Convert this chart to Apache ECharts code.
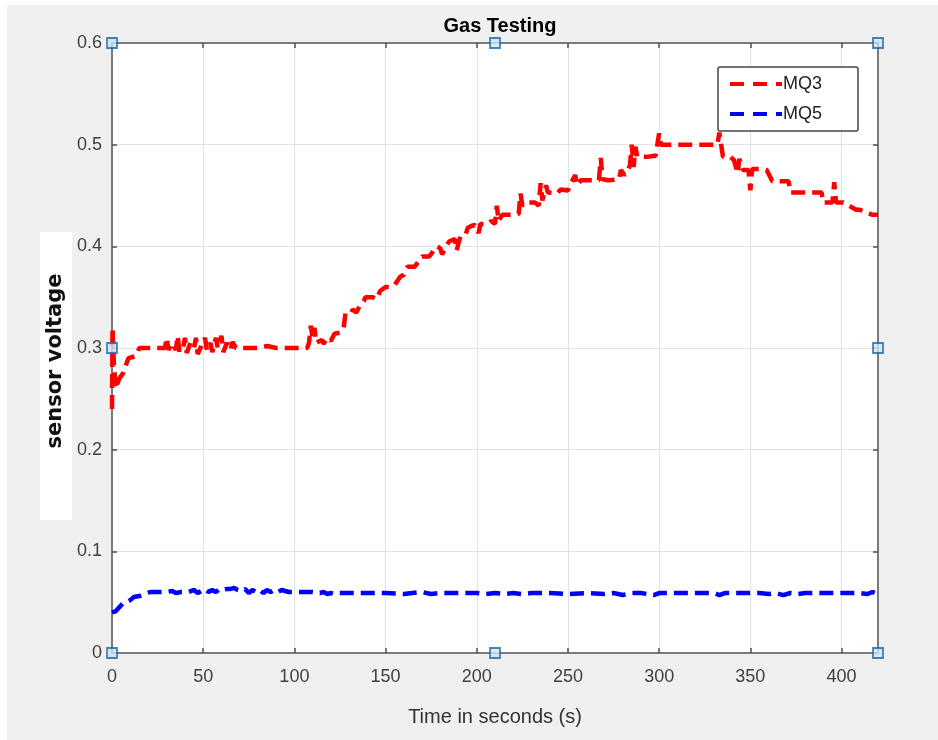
<!DOCTYPE html>
<html>
<head>
<meta charset="utf-8">
<script src="https://cdn.jsdelivr.net/npm/echarts@6/dist/echarts.min.js"></script>
<style>html,body{margin:0;padding:0;background:#fff;}#c{width:938px;height:740px;}</style>
</head>
<body>
<div id="c"></div>
<script>
const titleText = 'Gas Testing';
const xName = 'Time in seconds (s)';
const yName = 'sensor voltage';
const seriesNames = ['MQ3', 'MQ5'];
const xTicks = { min: 0, max: 420, interval: 50 };
const yTicks = { min: 0, max: 0.6, interval: 0.1 };

const mq3 = [[0,0.24],[0.3,0.32],[1,0.285],[2,0.26],[4,0.27],[6,0.275],[8,0.285],[9,0.29],[13,0.292],[15,0.30],[20,0.30],[26,0.30],[29,0.30],[30,0.31],[31,0.298],[33,0.305],[35,0.298],[36,0.312],[37,0.296],[39,0.30],[40,0.31],[41,0.295],[43,0.305],[45,0.30],[46,0.31],[47,0.294],[49,0.302],[51,0.31],[52,0.298],[54,0.305],[55,0.296],[57,0.31],[58,0.30],[60,0.312],[61,0.296],[63,0.305],[65,0.298],[66,0.306],[68,0.30],[75,0.30],[80,0.30],[85,0.302],[90,0.30],[100,0.30],[107,0.30],[108,0.305],[109,0.322],[110,0.31],[111,0.32],[112,0.305],[115,0.308],[116,0.304],[118,0.31],[120,0.307],[122,0.314],[125,0.315],[127,0.32],[128,0.334],[131,0.334],[132,0.338],[134,0.335],[136,0.342],[138,0.346],[139,0.35],[143,0.35],[145,0.348],[147,0.356],[150,0.36],[153,0.36],[155,0.362],[158,0.37],[160,0.372],[162,0.38],[166,0.38],[168,0.385],[170,0.39],[174,0.39],[176,0.395],[178,0.40],[180,0.398],[181,0.392],[183,0.40],[185,0.405],[188,0.407],[189,0.396],[191,0.41],[194,0.412],[195,0.418],[197,0.42],[199,0.421],[201,0.413],[202,0.422],[206,0.422],[208,0.425],[210,0.422],[211,0.44],[212,0.425],[214,0.431],[220,0.431],[223,0.432],[224,0.452],[225,0.44],[227,0.443],[232,0.443],[234,0.44],[235,0.462],[236,0.445],[238,0.46],[239,0.453],[244,0.452],[246,0.456],[250,0.455],[251,0.46],[254,0.47],[255,0.46],[257,0.465],[262,0.465],[267,0.465],[268,0.487],[269,0.466],[272,0.465],[278,0.466],[279,0.475],[281,0.47],[283,0.475],[284,0.48],[285,0.50],[286,0.478],[287,0.498],[288,0.488],[293,0.488],[298,0.489],[299,0.49],[300,0.511],[301,0.50],[310,0.50],[320,0.50],[330,0.50],[332,0.50],[333,0.512],[334,0.50],[335,0.488],[339,0.488],[341,0.485],[343,0.472],[344,0.486],[346,0.475],[349,0.475],[350,0.455],[351,0.476],[356,0.476],[359,0.475],[362,0.464],[371,0.464],[372,0.453],[380,0.453],[389,0.453],[390,0.443],[395,0.443],[396,0.463],[397,0.443],[401,0.443],[404,0.44],[408,0.436],[410,0.436],[414,0.433],[417,0.431],[420,0.431]];

const mq5 = [[0,0.04],[2,0.041],[4,0.045],[6,0.049],[8,0.05],[10,0.052],[12,0.055],[15,0.056],[18,0.058],[21,0.06],[25,0.06],[30,0.06],[33,0.061],[35,0.059],[38,0.06],[42,0.06],[45,0.062],[47,0.059],[49,0.061],[51,0.063],[53,0.06],[55,0.062],[57,0.06],[59,0.063],[61,0.062],[63,0.063],[65,0.063],[67,0.064],[69,0.062],[71,0.061],[73,0.063],[75,0.059],[77,0.062],[79,0.06],[81,0.062],[83,0.059],[85,0.062],[87,0.06],[89,0.062],[91,0.06],[93,0.062],[95,0.061],[97,0.06],[100,0.06],[105,0.06],[110,0.06],[114,0.059],[116,0.06],[118,0.058],[120,0.059],[122,0.058],[124,0.059],[130,0.059],[140,0.059],[150,0.059],[160,0.058],[170,0.06],[175,0.058],[180,0.059],[190,0.059],[200,0.059],[205,0.058],[210,0.059],[215,0.058],[220,0.059],[225,0.058],[230,0.059],[240,0.059],[250,0.058],[260,0.059],[270,0.058],[275,0.059],[280,0.057],[285,0.059],[290,0.059],[297,0.057],[300,0.059],[310,0.059],[320,0.059],[330,0.059],[333,0.057],[336,0.059],[345,0.059],[355,0.059],[360,0.058],[364,0.059],[368,0.057],[372,0.059],[376,0.058],[380,0.059],[390,0.059],[400,0.059],[410,0.059],[414,0.058],[417,0.06],[420,0.058]];

const handles = [[0,0],[0,0.3],[0,0.6],[210,0.6],[420,0.6],[420,0.3],[420,0],[210,0]];

const font = 'Liberation Sans, Arial, Helvetica, sans-serif';
const axisLineStyle = { color: '#7a7a7a', width: 2 };
const tickStyle = { color: '#505050', width: 1.5 };

function xAxisCfg(pos, main) {
  return {
    type: 'value', position: pos, min: xTicks.min, max: xTicks.max, interval: xTicks.interval,
    axisLine: { show: true, onZero: false, lineStyle: axisLineStyle },
    axisTick: { show: true, inside: true, length: 5, lineStyle: tickStyle },
    axisLabel: { show: main, color: '#404040', fontSize: 18, fontFamily: font, margin: 15, showMaxLabel: false },
    splitLine: { show: main, lineStyle: { color: '#e2e2e2', width: 1 } },
    name: main ? xName : '', nameLocation: 'middle', nameGap: 54,
    nameTextStyle: { color: '#333', fontSize: 20, fontFamily: font }
  };
}
function yAxisCfg(pos, main) {
  return {
    type: 'value', position: pos, min: yTicks.min, max: yTicks.max, interval: yTicks.interval,
    axisLine: { show: true, onZero: false, lineStyle: axisLineStyle },
    axisTick: { show: true, inside: true, length: 5, lineStyle: tickStyle },
    axisLabel: { show: main, color: '#404040', fontSize: 18, fontFamily: font, margin: 10,
      formatter: v => String(Math.round(v * 10) / 10) },
    splitLine: { show: main, lineStyle: { color: '#e2e2e2', width: 1 } }
  };
}

const chart = echarts.init(document.getElementById('c'), null, { renderer: 'canvas' });
chart.setOption({
  animation: false,
  backgroundColor: '#f0f0f0',
  title: {
    text: titleText, left: 495, top: 11, textAlign: 'center',
    textStyle: { fontSize: 20, fontWeight: 'bold', color: '#000', fontFamily: font }
  },
  grid: { left: 112, right: 60, top: 43, bottom: 87, show: true, backgroundColor: '#fff', borderWidth: 0 },
  xAxis: [xAxisCfg('bottom', true), xAxisCfg('top', false)],
  yAxis: [yAxisCfg('left', true), yAxisCfg('right', false)],
  legend: {
    data: seriesNames, orient: 'vertical', left: 718, top: 67,
    padding: [8, 36, 8, 10], itemWidth: 52, itemHeight: 14, itemGap: 12,
    itemStyle: { opacity: 0, borderWidth: 0 },
    lineStyle: { width: 4, type: [14, 9] },
    textStyle: { fontSize: 18, color: '#222', fontFamily: font, padding: [0, 0, 0, -4] },
    backgroundColor: '#fff', borderColor: '#444', borderWidth: 1.5, borderRadius: 2
  },
  graphic: [
    { type: 'rect', shape: { x: 0, y: 0, width: 938, height: 5 }, style: { fill: '#fff' }, silent: true },
    { type: 'rect', shape: { x: 0, y: 0, width: 7, height: 740 }, style: { fill: '#fff' }, silent: true },
    { type: 'rect', shape: { x: 40, y: 232, width: 32, height: 288 }, style: { fill: '#fff' }, silent: true },
    { type: 'text', x: 56, y: 361, rotation: Math.PI / 2,
      style: { text: yName, fill: '#111', font: 'bold 21px "DejaVu Sans", Verdana, sans-serif', textAlign: 'center', textVerticalAlign: 'middle' },
      silent: true }
  ],
  series: [
    { name: seriesNames[0], type: 'line', data: mq3, symbol: 'none', showSymbol: false,
      lineStyle: { color: '#ff0000', width: 4.5, type: [14, 7] }, itemStyle: { color: '#ff0000' }, z: 3 },
    { name: seriesNames[1], type: 'line', data: mq5, symbol: 'none', showSymbol: false,
      lineStyle: { color: '#0000ff', width: 4.5, type: [14, 7] }, itemStyle: { color: '#0000ff' }, z: 3 },
    { name: 'handles', type: 'scatter', data: handles, symbol: 'rect', symbolSize: 10, clip: false,
      itemStyle: { color: '#cfe3f3', borderColor: '#1a66a8', borderWidth: 1.8 }, z: 10, silent: true }
  ]
});
</script>
</body>
</html>
